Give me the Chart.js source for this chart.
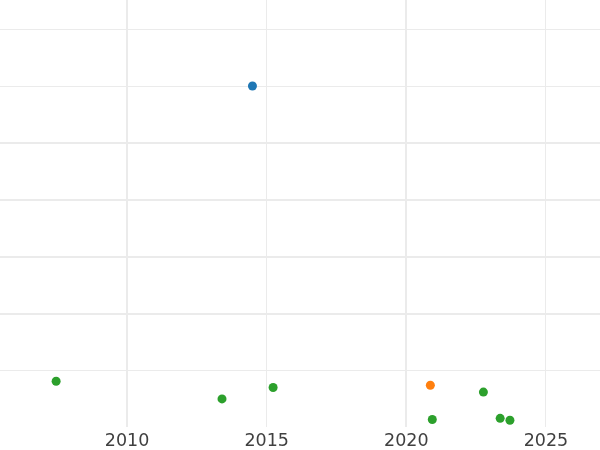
<!DOCTYPE html>
<html>
<head>
<meta charset="utf-8">
<script src="https://cdn.jsdelivr.net/npm/chart.js@4"></script>
<style>
  html, body { margin: 0; padding: 0; background: #fff; }
  #wrap { width: 600px; height: 450px; }
</style>
</head>
<body>
<div id="wrap"><canvas id="chart"></canvas></div>
<script>
// values
const blueYears = [2014.49];
const blueValues = [6.0];

const orangeYears = [2020.86];
const orangeValues = [0.75];

const greenYears = [2007.46, 2013.40, 2015.23, 2020.93, 2022.76, 2023.36, 2023.71];
const greenValues = [0.82, 0.51, 0.71, 0.15, 0.63, 0.17, 0.135];

const yearTicks = [2010, 2015, 2020, 2025];

const toPoints = (xs, ys) => xs.map((x, i) => ({ x: x, y: ys[i] }));

const chartElement = document.querySelector('#chart').getContext('2d');

new Chart(chartElement, {
  type: 'scatter',
  data: {
    datasets: [
      {
        label: 'A',
        data: toPoints(blueYears, blueValues),
        backgroundColor: '#1f77b4',
        borderWidth: 0,
        pointRadius: 4.5,
      },
      {
        label: 'B',
        data: toPoints(orangeYears, orangeValues),
        backgroundColor: '#ff7f0e',
        borderWidth: 0,
        pointRadius: 4.5,
      },
      {
        label: 'C',
        data: toPoints(greenYears, greenValues),
        backgroundColor: '#2ca02c',
        borderWidth: 0,
        pointRadius: 4.5,
      },
    ],
  },
  options: {
    responsive: true,
    maintainAspectRatio: false,
    animation: false,
    layout: { padding: 0, autoPadding: false },
    plugins: {
      legend: { display: false },
      tooltip: { enabled: false },
    },
    scales: {
      x: {
        type: 'linear',
        min: 2005.45,
        max: 2026.935,
        afterBuildTicks: (scale) => {
          scale.ticks = yearTicks.map((v) => ({ value: v }));
        },
        afterFit: (scale) => {
          scale.height = 23;
        },
        ticks: {
          callback: (v) => String(v),
          color: '#404040',
          padding: 4,
          font: { family: 'DejaVu Sans', size: 17.5 },
        },
        grid: {
          color: '#ebebeb',
          lineWidth: (ctx) => (ctx.tick && ctx.tick.value % 10 === 0 ? 2 : 1),
          drawTicks: false,
        },
        border: { display: false },
      },
      y: {
        min: 0.0175,
        max: 7.509,
        ticks: { display: false, stepSize: 1, includeBounds: false },
        grid: {
          color: '#ebebeb',
          lineWidth: (ctx) => (ctx.tick && ctx.tick.value >= 2 && ctx.tick.value <= 5 ? 2 : 1),
          drawTicks: false,
        },
        border: { display: false },
      },
    },
  },
});
</script>
</body>
</html>
